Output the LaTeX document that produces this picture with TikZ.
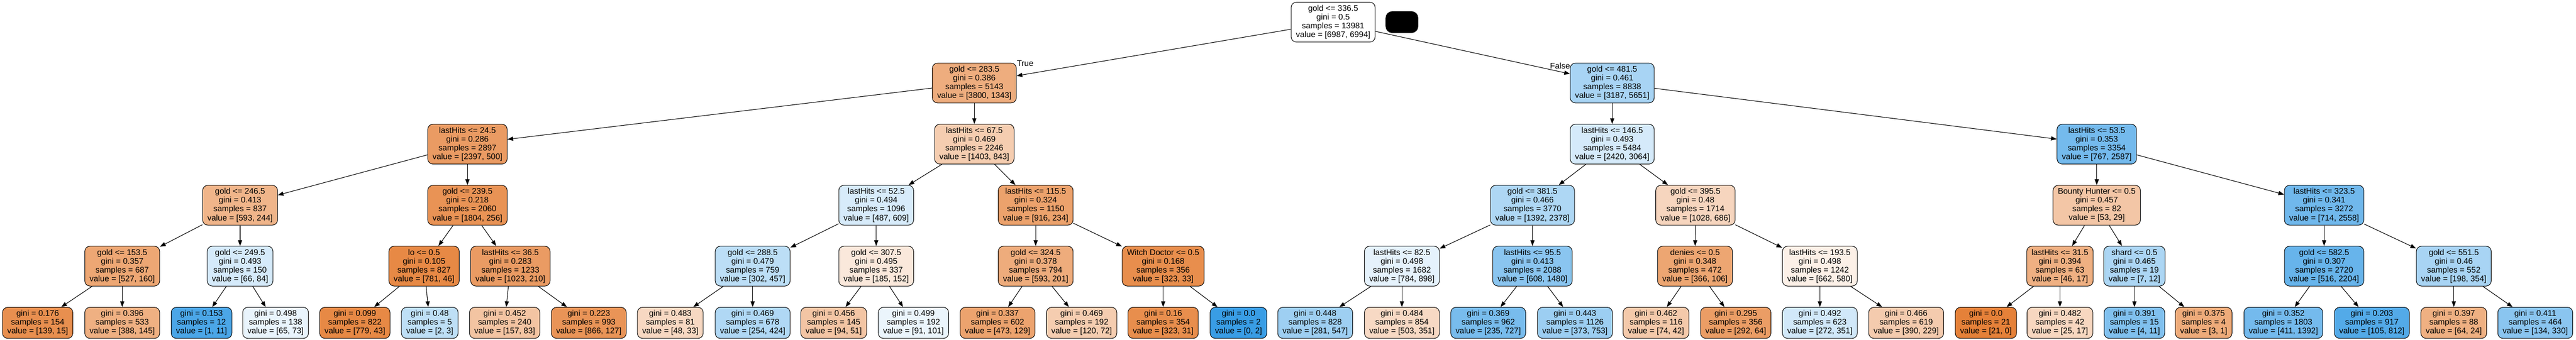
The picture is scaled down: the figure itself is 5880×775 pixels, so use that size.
\documentclass[tikz,border=0pt]{standalone}
\usepackage{fontspec}
\setmainfont{Liberation Sans}
\usetikzlibrary{arrows.meta}
\definecolor{cO}{RGB}{229,129,57}
\definecolor{cB}{RGB}{57,157,229}
\tikzset{
  box/.style={draw=black, line width=1.2pt, rounded corners=12pt, align=center,
    inner xsep=11pt, inner ysep=0pt, font=\fontsize{18.67}{20}\selectfont},
  inode/.style={box, minimum height=91pt},
  leaf/.style={box, minimum height=71pt},
  edge/.style={line width=1.3pt, -{Triangle[length=13pt,width=9.5pt]}},
  lbl/.style={font=\fontsize{18.67}{20}\selectfont, inner sep=0pt, anchor=base}
}
\begin{document}
\begin{tikzpicture}[x=1pt,y=-1pt]
\useasboundingbox (0,0) rectangle (5880,775);
\fill[white] (0,0) rectangle (5880,775);
% level 0
\node[inode, fill=white] (r) at (3043,50.5) {gold <= 336.5\\gini = 0.5\\samples = 13981\\value = [6987, 6994]};
\node[draw=black, fill=black, rounded corners=15pt, minimum width=74pt, minimum height=49pt, inner sep=0pt] (blk) at (3200,50.5) {};
% level 1
\node[inode, fill=cO!65!white] (a) at (2224,189.5) {gold <= 283.5\\gini = 0.386\\samples = 5143\\value = [3800, 1343]};
\node[inode, fill=cB!44!white] (b) at (3680,189.5) {gold <= 481.5\\gini = 0.461\\samples = 8838\\value = [3187, 5651]};
% level 2
\node[inode, fill=cO!79!white] (aa) at (1067,329) {lastHits <= 24.5\\gini = 0.286\\samples = 2897\\value = [2397, 500]};
\node[inode, fill=cO!40!white] (ab) at (2224,329) {lastHits <= 67.5\\gini = 0.469\\samples = 2246\\value = [1403, 843]};
\node[inode, fill=cB!21!white] (ba) at (3680,329) {lastHits <= 146.5\\gini = 0.493\\samples = 5484\\value = [2420, 3064]};
\node[inode, fill=cB!70!white] (bb) at (4786,329) {lastHits <= 53.5\\gini = 0.353\\samples = 3354\\value = [767, 2587]};
% level 3
\node[inode, fill=cO!59!white] (aaa) at (548,468.5) {gold <= 246.5\\gini = 0.413\\samples = 837\\value = [593, 244]};
\node[inode, fill=cO!86!white] (aab) at (1067,468.5) {gold <= 239.5\\gini = 0.218\\samples = 2060\\value = [1804, 256]};
\node[inode, fill=cB!20!white] (aba) at (2000,468.5) {lastHits <= 52.5\\gini = 0.494\\samples = 1096\\value = [487, 609]};
\node[inode, fill=cO!74!white] (abb) at (2364,468.5) {lastHits <= 115.5\\gini = 0.324\\samples = 1150\\value = [916, 234]};
\node[inode, fill=cB!41!white] (baa) at (3498,468.5) {gold <= 381.5\\gini = 0.466\\samples = 3770\\value = [1392, 2378]};
\node[inode, fill=cO!33!white] (bab) at (3870,468.5) {gold <= 395.5\\gini = 0.48\\samples = 1714\\value = [1028, 686]};
\node[inode, fill=cO!45!white] (bba) at (4786,468.5) {Bounty Hunter <= 0.5\\gini = 0.457\\samples = 82\\value = [53, 29]};
\node[inode, fill=cB!72!white] (bbb) at (5305,468.5) {lastHits <= 323.5\\gini = 0.341\\samples = 3272\\value = [714, 2558]};
% level 4
\node[inode, fill=cO!70!white] (aaaa) at (279,607.5) {gold <= 153.5\\gini = 0.357\\samples = 687\\value = [527, 160]};
\node[inode, fill=cB!21!white] (aaab) at (548,607.5) {gold <= 249.5\\gini = 0.493\\samples = 150\\value = [66, 84]};
\node[inode, fill=cO!94!white] (aaba) at (968,607.5) {lo <= 0.5\\gini = 0.105\\samples = 827\\value = [781, 46]};
\node[inode, fill=cO!79!white] (aabb) at (1165,607.5) {lastHits <= 36.5\\gini = 0.283\\samples = 1233\\value = [1023, 210]};
\node[inode, fill=cB!34!white] (abaa) at (1718,607.5) {gold <= 288.5\\gini = 0.479\\samples = 759\\value = [302, 457]};
\node[inode, fill=cO!18!white] (abab) at (2000,607.5) {gold <= 307.5\\gini = 0.495\\samples = 337\\value = [185, 152]};
\node[inode, fill=cO!66!white] (abba) at (2364,607.5) {gold <= 324.5\\gini = 0.378\\samples = 794\\value = [593, 201]};
\node[inode, fill=cO!90!white] (abbb) at (2655,607.5) {Witch Doctor <= 0.5\\gini = 0.168\\samples = 356\\value = [323, 33]};
\node[inode, fill=cB!13!white] (baaa) at (3200,607.5) {lastHits <= 82.5\\gini = 0.498\\samples = 1682\\value = [784, 898]};
\node[inode, fill=cB!59!white] (baab) at (3498,607.5) {lastHits <= 95.5\\gini = 0.413\\samples = 2088\\value = [608, 1480]};
\node[inode, fill=cO!71!white] (baba) at (3869,607.5) {denies <= 0.5\\gini = 0.348\\samples = 472\\value = [366, 106]};
\node[inode, fill=cO!12!white] (babb) at (4154,607.5) {lastHits <= 193.5\\gini = 0.498\\samples = 1242\\value = [662, 580]};
\node[inode, fill=cO!63!white] (bbaa) at (4702,607.5) {lastHits <= 31.5\\gini = 0.394\\samples = 63\\value = [46, 17]};
\node[inode, fill=cB!42!white] (bbab) at (4872,607.5) {shard <= 0.5\\gini = 0.465\\samples = 19\\value = [7, 12]};
\node[inode, fill=cB!77!white] (bbba) at (5305,607.5) {gold <= 582.5\\gini = 0.307\\samples = 2720\\value = [516, 2204]};
\node[inode, fill=cB!44!white] (bbbb) at (5601,607.5) {gold <= 551.5\\gini = 0.46\\samples = 552\\value = [198, 354]};
% level 5 (leaves)
\node[leaf, fill=cO!89!white] (l1) at (86,737) {gini = 0.176\\samples = 154\\value = [139, 15]};
\node[leaf, fill=cO!63!white] (l2) at (279,737) {gini = 0.396\\samples = 533\\value = [388, 145]};
\node[leaf, fill=cB!91!white] (l3) at (460,737) {gini = 0.153\\samples = 12\\value = [1, 11]};
\node[leaf, fill=cB!11!white] (l4) at (629,737) {gini = 0.498\\samples = 138\\value = [65, 73]};
\node[leaf, fill=cO!94!white] (l5) at (810,737) {gini = 0.099\\samples = 822\\value = [779, 43]};
\node[leaf, fill=cB!33!white] (l6) at (981,737) {gini = 0.48\\samples = 5\\value = [2, 3]};
\node[leaf, fill=cO!47!white] (l7) at (1152,737) {gini = 0.452\\samples = 240\\value = [157, 83]};
\node[leaf, fill=cO!85!white] (l8) at (1344,737) {gini = 0.223\\samples = 993\\value = [866, 127]};
\node[leaf, fill=cO!31!white] (l9) at (1530,737) {gini = 0.483\\samples = 81\\value = [48, 33]};
\node[leaf, fill=cB!40!white] (l10) at (1718,737) {gini = 0.469\\samples = 678\\value = [254, 424]};
\node[leaf, fill=cO!46!white] (l11) at (1903,737) {gini = 0.456\\samples = 145\\value = [94, 51]};
\node[leaf, fill=cB!10!white] (l12) at (2085,737) {gini = 0.499\\samples = 192\\value = [91, 101]};
\node[leaf, fill=cO!73!white] (l13) at (2277,737) {gini = 0.337\\samples = 602\\value = [473, 129]};
\node[leaf, fill=cO!40!white] (l14) at (2469,737) {gini = 0.469\\samples = 192\\value = [120, 72]};
\node[leaf, fill=cO!90!white] (l15) at (2655,737) {gini = 0.16\\samples = 354\\value = [323, 31]};
\node[leaf, fill=cB] (l16) at (2827,737) {gini = 0.0\\samples = 2\\value = [0, 2]};
\node[leaf, fill=cB!49!white] (l17) at (3002,737) {gini = 0.448\\samples = 828\\value = [281, 547]};
\node[leaf, fill=cO!30!white] (l18) at (3200,737) {gini = 0.484\\samples = 854\\value = [503, 351]};
\node[leaf, fill=cB!68!white] (l19) at (3397,737) {gini = 0.369\\samples = 962\\value = [235, 727]};
\node[leaf, fill=cB!50!white] (l20) at (3595,737) {gini = 0.443\\samples = 1126\\value = [373, 753]};
\node[leaf, fill=cO!43!white] (l21) at (3780,737) {gini = 0.462\\samples = 116\\value = [74, 42]};
\node[leaf, fill=cO!78!white] (l22) at (3962,737) {gini = 0.295\\samples = 356\\value = [292, 64]};
\node[leaf, fill=cB!23!white] (l23) at (4154,737) {gini = 0.492\\samples = 623\\value = [272, 351]};
\node[leaf, fill=cO!41!white] (l24) at (4351,737) {gini = 0.466\\samples = 619\\value = [390, 229]};
\node[leaf, fill=cO] (l25) at (4533,737) {gini = 0.0\\samples = 21\\value = [21, 0]};
\node[leaf, fill=cO!32!white] (l26) at (4702,737) {gini = 0.482\\samples = 42\\value = [25, 17]};
\node[leaf, fill=cB!64!white] (l27) at (4872,737) {gini = 0.391\\samples = 15\\value = [4, 11]};
\node[leaf, fill=cO!67!white] (l28) at (5030,737) {gini = 0.375\\samples = 4\\value = [3, 1]};
\node[leaf, fill=cB!70!white] (l29) at (5212,737) {gini = 0.352\\samples = 1803\\value = [411, 1392]};
\node[leaf, fill=cB!87!white] (l30) at (5414,737) {gini = 0.203\\samples = 917\\value = [105, 812]};
\node[leaf, fill=cO!63!white] (l31) at (5601,737) {gini = 0.397\\samples = 88\\value = [64, 24]};
\node[leaf, fill=cB!59!white] (l32) at (5787,737) {gini = 0.411\\samples = 464\\value = [134, 330]};
% edge labels
\node[lbl] (tl) at (2340,151) {True};
\node[lbl] (fl) at (3561,157) {False};
% edges
\draw[edge] (r) -- (a);
\draw[edge] (r) -- (b);
\draw[edge] (a) -- (aa);
\draw[edge] (a) -- (ab);
\draw[edge] (b) -- (ba);
\draw[edge] (b) -- (bb);
\draw[edge] (aa) -- (aaa);
\draw[edge] (aa) -- (aab);
\draw[edge] (ab) -- (aba);
\draw[edge] (ab) -- (abb);
\draw[edge] (ba) -- (baa);
\draw[edge] (ba) -- (bab);
\draw[edge] (bb) -- (bba);
\draw[edge] (bb) -- (bbb);
\draw[edge] (aaa) -- (aaaa);
\draw[edge] (aaa) -- (aaab);
\draw[edge] (aab) -- (aaba);
\draw[edge] (aab) -- (aabb);
\draw[edge] (aba) -- (abaa);
\draw[edge] (aba) -- (abab);
\draw[edge] (abb) -- (abba);
\draw[edge] (abb) -- (abbb);
\draw[edge] (baa) -- (baaa);
\draw[edge] (baa) -- (baab);
\draw[edge] (bab) -- (baba);
\draw[edge] (bab) -- (babb);
\draw[edge] (bba) -- (bbaa);
\draw[edge] (bba) -- (bbab);
\draw[edge] (bbb) -- (bbba);
\draw[edge] (bbb) -- (bbbb);
\draw[edge] (aaaa) -- (l1);
\draw[edge] (aaaa) -- (l2);
\draw[edge] (aaab) -- (l3);
\draw[edge] (aaab) -- (l4);
\draw[edge] (aaba) -- (l5);
\draw[edge] (aaba) -- (l6);
\draw[edge] (aabb) -- (l7);
\draw[edge] (aabb) -- (l8);
\draw[edge] (abaa) -- (l9);
\draw[edge] (abaa) -- (l10);
\draw[edge] (abab) -- (l11);
\draw[edge] (abab) -- (l12);
\draw[edge] (abba) -- (l13);
\draw[edge] (abba) -- (l14);
\draw[edge] (abbb) -- (l15);
\draw[edge] (abbb) -- (l16);
\draw[edge] (baaa) -- (l17);
\draw[edge] (baaa) -- (l18);
\draw[edge] (baab) -- (l19);
\draw[edge] (baab) -- (l20);
\draw[edge] (baba) -- (l21);
\draw[edge] (baba) -- (l22);
\draw[edge] (babb) -- (l23);
\draw[edge] (babb) -- (l24);
\draw[edge] (bbaa) -- (l25);
\draw[edge] (bbaa) -- (l26);
\draw[edge] (bbab) -- (l27);
\draw[edge] (bbab) -- (l28);
\draw[edge] (bbba) -- (l29);
\draw[edge] (bbba) -- (l30);
\draw[edge] (bbbb) -- (l31);
\draw[edge] (bbbb) -- (l32);
\end{tikzpicture}
\end{document}
